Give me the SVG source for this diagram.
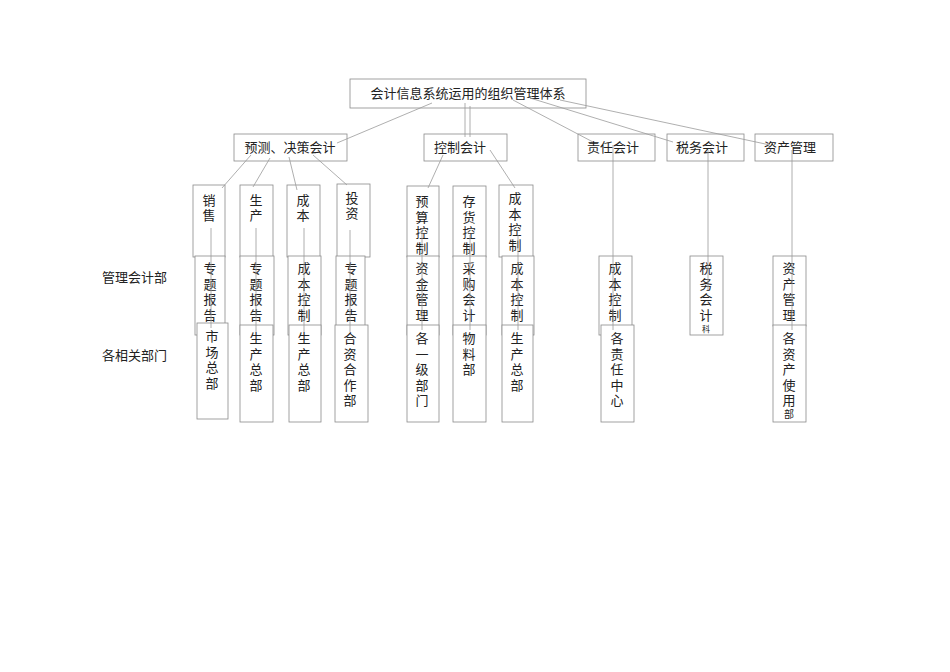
<svg xmlns="http://www.w3.org/2000/svg" width="950" height="672" viewBox="0 0 950 672">
<style>
rect{fill:#fff;stroke:#8a8a8a;stroke-width:0.8}
line{stroke:#9a9a9a;stroke-width:0.8}
text{font-family:"Noto Sans CJK SC","Liberation Serif",serif;font-size:13px;fill:#222}
.v{text-anchor:middle}
</style>
<rect width="950" height="672" style="stroke:none"/>
<g id="top"><rect x="350" y="79" width="236" height="29"/><text x="468" y="98" class="v">会计信息系统运用的组织管理体系</text></g>
<g id="yc"><rect x="234" y="134" width="113" height="27"/><text x="290" y="152" class="v">预测、决策会计</text></g>
<g id="kz"><rect x="424" y="134" width="83" height="27"/><text x="460" y="152" class="v">控制会计</text></g>
<g id="zr"><rect x="578" y="134" width="77" height="27"/><text x="613" y="152" class="v">责任会计</text></g>
<g id="sw"><rect x="667" y="134" width="77" height="27"/><text x="702" y="152" class="v">税务会计</text></g>
<g id="zc"><rect x="755" y="134" width="78" height="27"/><text x="790" y="152" class="v">资产管理</text></g>
<g id="r3">
<rect x="193" y="185" width="32" height="72"/><text class="v" x="209" y="205">销<tspan x="209" dy="15">售</tspan></text>
<rect x="240" y="185" width="33" height="72"/><text class="v" x="256" y="205">生<tspan x="256" dy="15">产</tspan></text>
<rect x="287" y="185" width="33" height="72"/><text class="v" x="303" y="205">成<tspan x="303" dy="15">本</tspan></text>
<rect x="337" y="184" width="33" height="73"/><text class="v" x="352" y="203">投<tspan x="352" dy="15">资</tspan></text>
<rect x="407" y="186" width="32" height="71"/><text class="v" x="422" y="206">预<tspan x="422" dy="15.5">算</tspan><tspan x="422" dy="15.5">控</tspan><tspan x="422" dy="15.5">制</tspan></text>
<rect x="453" y="186" width="33" height="71"/><text class="v" x="469" y="206">存<tspan x="469" dy="15.5">货</tspan><tspan x="469" dy="15.5">控</tspan><tspan x="469" dy="15.5">制</tspan></text>
<rect x="499" y="185" width="34" height="72"/><text class="v" x="515" y="203">成<tspan x="515" dy="15.5">本</tspan><tspan x="515" dy="15.5">控</tspan><tspan x="515" dy="15.5">制</tspan></text>
</g>
<g id="r4">
<rect x="195" y="256" width="30" height="79"/><text class="v" x="210" y="273">专<tspan x="210" dy="15.5">题</tspan><tspan x="210" dy="15.5">报</tspan><tspan x="210" dy="15.5">告</tspan></text>
<rect x="240" y="256" width="34" height="79"/><text class="v" x="256" y="273">专<tspan x="256" dy="15.5">题</tspan><tspan x="256" dy="15.5">报</tspan><tspan x="256" dy="15.5">告</tspan></text>
<rect x="288" y="256" width="33" height="79"/><text class="v" x="304" y="273">成<tspan x="304" dy="15.5">本</tspan><tspan x="304" dy="15.5">控</tspan><tspan x="304" dy="15.5">制</tspan></text>
<rect x="336" y="256" width="29" height="79"/><text class="v" x="351" y="273">专<tspan x="351" dy="15.5">题</tspan><tspan x="351" dy="15.5">报</tspan><tspan x="351" dy="15.5">告</tspan></text>
<rect x="407" y="256" width="32" height="79"/><text class="v" x="422" y="273">资<tspan x="422" dy="15.5">金</tspan><tspan x="422" dy="15.5">管</tspan><tspan x="422" dy="15.5">理</tspan></text>
<rect x="453" y="256" width="33" height="79"/><text class="v" x="469" y="273">采<tspan x="469" dy="15.5">购</tspan><tspan x="469" dy="15.5">会</tspan><tspan x="469" dy="15.5">计</tspan></text>
<rect x="502" y="256" width="32" height="79"/><text class="v" x="517" y="273">成<tspan x="517" dy="15.5">本</tspan><tspan x="517" dy="15.5">控</tspan><tspan x="517" dy="15.5">制</tspan></text>
<rect x="599" y="256" width="33" height="79"/><text class="v" x="615" y="273">成<tspan x="615" dy="15.5">本</tspan><tspan x="615" dy="15.5">控</tspan><tspan x="615" dy="15.5">制</tspan></text>
<rect x="690" y="256" width="33" height="79"/><text class="v" x="706" y="273">税<tspan x="706" dy="15.5">务</tspan><tspan x="706" dy="15.5">会</tspan><tspan x="706" dy="15.5">计</tspan><tspan x="706" dy="12" font-size="8">科</tspan></text>
<rect x="773" y="256" width="33" height="70"/><text class="v" x="789" y="273">资<tspan x="789" dy="15.5">产</tspan><tspan x="789" dy="15.5">管</tspan><tspan x="789" dy="15.5">理</tspan></text>
</g>
<g id="r5">
<rect x="197" y="323" width="31" height="96"/><text class="v" x="212" y="341">市<tspan x="212" dy="15.5">场</tspan><tspan x="212" dy="15.5">总</tspan><tspan x="212" dy="15.5">部</tspan></text>
<rect x="240" y="325" width="33" height="97"/><text class="v" x="256" y="343">生<tspan x="256" dy="15.5">产</tspan><tspan x="256" dy="15.5">总</tspan><tspan x="256" dy="15.5">部</tspan></text>
<rect x="289" y="325" width="32" height="97"/><text class="v" x="304" y="343">生<tspan x="304" dy="15.5">产</tspan><tspan x="304" dy="15.5">总</tspan><tspan x="304" dy="15.5">部</tspan></text>
<rect x="335" y="325" width="33" height="97"/><text class="v" x="350" y="343">合<tspan x="350" dy="15.5">资</tspan><tspan x="350" dy="15.5">合</tspan><tspan x="350" dy="15.5">作</tspan><tspan x="350" dy="15.5">部</tspan></text>
<rect x="407" y="325" width="32" height="97"/><text class="v" x="422" y="343">各<tspan x="422" dy="15.5">一</tspan><tspan x="422" dy="15.5">级</tspan><tspan x="422" dy="15.5">部</tspan><tspan x="422" dy="15.5">门</tspan></text>
<rect x="453" y="325" width="33" height="97"/><text class="v" x="469" y="343">物<tspan x="469" dy="15.5">料</tspan><tspan x="469" dy="15.5">部</tspan></text>
<rect x="502" y="325" width="31" height="97"/><text class="v" x="517" y="343">生<tspan x="517" dy="15.5">产</tspan><tspan x="517" dy="15.5">总</tspan><tspan x="517" dy="15.5">部</tspan></text>
<rect x="601" y="325" width="33" height="97"/><text class="v" x="617" y="343">各<tspan x="617" dy="15.5">责</tspan><tspan x="617" dy="15.5">任</tspan><tspan x="617" dy="15.5">中</tspan><tspan x="617" dy="15.5">心</tspan></text>
<rect x="773" y="325" width="33" height="97"/><text class="v" x="789" y="343">各<tspan x="789" dy="15.5">资</tspan><tspan x="789" dy="15.5">产</tspan><tspan x="789" dy="15.5">使</tspan><tspan x="789" dy="15.5">用</tspan><tspan x="789" dy="13" font-size="10">部</tspan></text>
</g>
<g id="labels">
<text x="102" y="282">管理会计部</text>
<text x="102" y="360">各相关部门</text>
</g>
<g id="connectors">
<line x1="432" y1="103" x2="337" y2="143"/>
<line x1="465" y1="103" x2="465" y2="137"/>
<line x1="470" y1="106" x2="470" y2="137"/>
<line x1="513" y1="100" x2="593" y2="142"/>
<line x1="530" y1="98" x2="673" y2="142"/>
<line x1="560" y1="100" x2="770" y2="145"/>
<line x1="251" y1="155" x2="222" y2="188"/>
<line x1="270" y1="158" x2="253" y2="187"/>
<line x1="289" y1="157" x2="297" y2="190"/>
<line x1="313" y1="155" x2="347" y2="185"/>
<line x1="443" y1="155" x2="428" y2="188"/>
<line x1="490" y1="150" x2="515" y2="188"/>
<line x1="211" y1="228" x2="211" y2="328"/>
<line x1="256" y1="228" x2="256" y2="332"/>
<line x1="304" y1="228" x2="304" y2="332"/>
<line x1="350" y1="230" x2="350" y2="332"/>
<line x1="422" y1="228" x2="422" y2="330"/>
<line x1="470" y1="235" x2="470" y2="330"/>
<line x1="518" y1="235" x2="518" y2="330"/>
<line x1="613" y1="145" x2="613" y2="330"/>
<line x1="708" y1="150" x2="708" y2="290"/>
<line x1="792" y1="150" x2="792" y2="330"/>
</g>
</svg>
